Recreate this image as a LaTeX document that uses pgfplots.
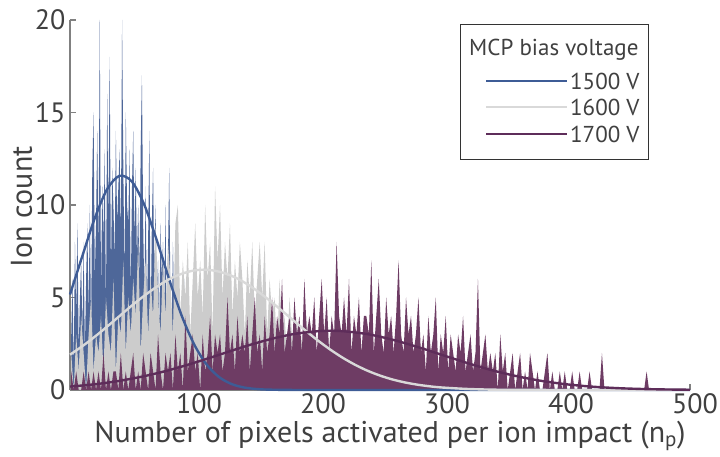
\documentclass[border=0pt]{standalone}
\usepackage{pgfplots}
\pgfplotsset{compat=1.18}
\usepackage{fontspec}
\setmainfont{PT Sans}
\definecolor{txt}{HTML}{404040}
\definecolor{bluefill}{HTML}{4E6799}
\definecolor{blueline}{HTML}{3E5C96}
\definecolor{grayfill}{HTML}{CCCCCC}
\definecolor{grayline}{HTML}{D9D9D9}
\definecolor{purpfill}{HTML}{6E3C64}
\definecolor{purpline}{HTML}{5E2D5A}
\begin{document}
\begin{tikzpicture}
\path[use as bounding box] (-70pt,-67pt) rectangle (650pt,390pt);
\begin{axis}[
  at={(0pt,0pt)}, anchor=south west,
  scale only axis, width=620pt, height=370pt,
  xmin=0, xmax=500, ymin=0, ymax=20,
  axis lines*=left,
  axis line style={gray, line width=1.2pt},
  tick align=inside,
  major tick length=6pt,
  tick style={gray, line width=1.2pt},
  xtick={100,200,...,500}, ytick={0,5,...,20},
  /pgf/number format/assume math mode=true,
  tick label style={font=\fontsize{28}{32}\selectfont, text=txt},
  xticklabel style={xshift=5pt},
  yticklabel style={xshift=-1pt},
  label style={font=\fontsize{30}{34}\selectfont, text=txt},
  xlabel={Number of pixels activated per ion impact (n\textsubscript{p})},
  ylabel={Ion count},
  xlabel style={at={(rel axis cs:0.516,-0.125)}, anchor=center},
  ylabel style={at={(rel axis cs:-0.078,0.495)}, anchor=center},
  clip=false,
]
% 1500 V histogram
\addplot[fill=bluefill, draw=none] coordinates {
(1,3)(2,6)(3,1)(4,8)(5,4)(6,9)(7,2)(8,5)(9,7)(10,3)
(11,8)(12,2)(13,6)(14,9)(15,4)(16,10)(17,3)(18,12)(19,15)(20,6)
(21,9)(22,14)(23,7)(24,20)(25,5)(26,11)(27,8)(28,13)(29,4)(30,16)
(31,9)(32,18)(33,6)(34,12)(35,10)(36,7)(37,14)(38,9)(39,11)(40,13)
(41,8)(42,20)(43,12)(44,6)(45,15)(46,10)(47,9)(48,13)(49,5)(50,11)
(51,14)(52,8)(53,12)(54,7)(55,10)(56,6)(57,13)(58,17)(59,9)(60,5)
(61,11)(62,4)(63,8)(64,14)(65,3)(66,9)(67,12)(68,6)(69,10)(70,5)
(71,7)(72,3)(73,9)(74,6)(75,8)(76,4)(77,10)(78,2)(79,7)(80,12)
(81,5)(82,3)(83,8)(84,4)(85,2)(86,6)(87,3)(88,5)(89,1)(90,4)
(91,2)(92,6)(93,1)(94,3)(95,2)(96,4)(97,1)(98,2)(99,3)(100,1)
(101,2)(102,0)(103,1)(104,3)(105,0)(106,1)(107,2)(108,0)(109,1)(110,0)
(111,1)(112,0)(113,2)(114,0)(115,0)(116,1)(117,0)(118,0)(119,1)(120,0)
} \closedcycle;
% 1600 V histogram
\addplot[fill=grayfill, draw=none] coordinates {
(1,2)(3,0)(5,3)(7,1)(9,4)(11,2)(13,0)(15,3)(17,5)(19,1)
(21,3)(23,2)(25,4)(27,1)(29,5)(31,3)(33,2)(35,6)(37,1)(39,4)
(41,3)(43,7)(45,2)(47,5)(49,3)(51,6)(53,4)(55,8)(57,2)(59,5)
(61,7)(63,3)(65,6)(67,4)(69,9)(71,5)(73,3)(75,7)(77,4)(79,8)
(81,6)(83,3)(85,9)(87,10)(89,4)(91,7)(93,5)(95,8)(97,3)(99,6)
(101,9)(103,5)(105,7)(107,4)(109,10)(111,6)(113,8)(115,3)(117,11)(119,7)
(121,10)(123,5)(125,8)(127,6)(129,9)(131,4)(133,7)(135,5)(137,8)(139,6)
(141,3)(143,7)(145,5)(147,8)(149,4)(151,6)(153,8)(155,5)(157,8)(159,3)
(161,6)(163,4)(165,5)(167,2)(169,6)(171,3)(173,4)(175,2)(177,5)(179,3)
(181,2)(183,4)(185,1)(187,3)(189,2)(191,4)(193,1)(195,2)(197,3)(199,1)
(201,2)(203,0)(205,2)(207,1)(209,3)(211,0)(213,1)(215,2)(217,0)(219,1)
(221,2)(223,0)(225,1)(227,0)(229,1)(231,2)(233,0)(235,1)(237,0)(239,1)
(241,0)(243,1)(245,0)(247,0)(249,1)(251,0)(253,0)(255,1)(257,0)(259,0)
(261,1)(263,0)(265,0)(267,0)(269,1)(271,0)(273,0)(275,0)(277,1)(279,0)
(281,0)(283,0)(285,0)(287,1)(289,0)(291,0)
} \closedcycle;
% 1700 V histogram
\addplot[fill=purpfill, draw=none] coordinates {
(1,1)(3,0)(5,1)(7,0)(9,0)(11,1)(13,0)(15,1)(17,0)(19,1)
(21,0)(23,1)(25,0)(27,2)(29,0)(31,1)(33,0)(35,1)(37,1)(39,0)
(41,2)(43,0)(45,1)(47,0)(49,1)(51,2)(53,0)(55,1)(57,0)(59,2)
(61,1)(63,0)(65,2)(67,1)(69,0)(71,3)(73,1)(75,0)(77,2)(79,1)
(81,2)(83,0)(85,3)(87,1)(89,2)(91,0)(93,4)(95,1)(97,2)(99,3)
(101,1)(103,2)(105,0)(107,3)(109,1)(111,2)(113,4)(115,1)(117,3)(119,2)
(121,3)(123,1)(125,2)(127,5)(129,2)(131,3)(133,1)(135,4)(137,2)(139,3)
(141,2)(143,4)(145,1)(147,3)(149,5)(151,2)(153,3)(155,1)(157,4)(159,2)
(161,3)(163,5)(165,2)(167,4)(169,3)(171,6)(173,2)(175,3)(177,4)(179,2)
(181,5)(183,3)(185,4)(187,2)(189,6)(191,3)(193,4)(195,3)(197,5)(199,2)
(201,4)(203,6)(205,3)(207,5)(209,2)(211,4)(213,3)(215,8)(217,4)(219,3)
(221,5)(223,3)(225,6)(227,2)(229,4)(231,3)(233,5)(235,2)(237,4)(239,4)
(241,3)(243,7)(245,2)(247,4)(249,6)(251,3)(253,2)(255,5)(257,3)(259,4)
(261,2)(263,4)(265,7)(267,3)(269,2)(271,5)(273,3)(275,4)(277,2)(279,3)
(281,5)(283,2)(285,3)(287,1)(289,4)(291,2)(293,3)(295,5)(297,1)(299,3)
(301,2)(303,4)(305,1)(307,3)(309,2)(311,1)(313,3)(315,2)(317,4)(319,1)
(321,2)(323,3)(325,1)(327,2)(329,6)(331,1)(333,2)(335,3)(337,1)(339,2)
(341,1)(343,2)(345,0)(347,3)(349,1)(351,2)(353,0)(355,1)(357,2)(359,0)
(361,1)(363,2)(365,0)(367,1)(369,0)(371,2)(373,1)(375,0)(377,1)(379,0)
(381,0)(383,1)(385,2)(387,0)(389,1)(391,0)(393,0)(395,1)(397,0)(399,1)
(401,0)(403,0)(405,1)(407,0)(409,0)(411,1)(413,0)(415,0)(417,0)(419,1)
(421,0)(423,0)(425,0)(427,0)(429,2)(431,0)(433,0)(441,0)(463,0)(465,1)(467,0)(479,0)
} \closedcycle;
% Gaussian fits
\addplot[blueline, line width=2.4pt, smooth] coordinates {
(0,5.16)(10,7.25)(20,9.29)(30,10.86)(40,11.58)(50,11.26)(60,10.0)(70,8.09)
(80,5.98)(90,4.03)(100,2.48)(110,1.39)(120,0.71)(130,0.33)(140,0.14)(150,0.055)
(160,0.02)(180,0.002)(200,0)(300,0)(400,0)(500,0)
};
\addplot[grayline, line width=2.4pt, smooth] coordinates {
(0,1.91)(10,2.37)(20,2.88)(30,3.43)(40,4.0)(50,4.57)(60,5.10)(70,5.58)(80,5.99)
(90,6.28)(100,6.46)(110,6.50)(120,6.40)(130,6.18)(140,5.84)(150,5.40)(160,4.89)
(170,4.34)(180,3.77)(190,3.21)(200,2.67)(210,2.18)(220,1.74)(230,1.36)(240,1.04)
(250,0.78)(260,0.57)(270,0.41)(280,0.29)(290,0.20)(300,0.135)(320,0.058)
(340,0.02)(360,0.008)(400,0.001)(500,0)
};
\addplot[purpline, line width=2.4pt, smooth] coordinates {
(0,0.186)(20,0.31)(40,0.495)(60,0.749)(80,1.075)(100,1.466)(120,1.897)(140,2.333)
(160,2.72)(180,3.02)(200,3.18)(210,3.2)(220,3.18)(240,3.02)(260,2.72)(280,2.333)
(300,1.897)(320,1.466)(340,1.075)(360,0.749)(380,0.495)(400,0.31)(420,0.186)
(440,0.105)(460,0.057)(480,0.029)(500,0.014)
};
\end{axis}
% legend
\draw[black!80, line width=1pt, fill=white] (390pt,230pt) rectangle (578pt,365pt);
\begin{scope}[font=\fontsize{23}{26}\selectfont, text=txt]
\node[anchor=west, inner sep=0pt] at (399pt,340pt) {MCP bias voltage};
\draw[blueline, line width=2.4pt] (416pt,309pt) -- (497pt,309pt);
\draw[grayline, line width=2.4pt] (416pt,283pt) -- (497pt,283pt);
\draw[purpline, line width=2.4pt] (416pt,256pt) -- (497pt,256pt);
\node[anchor=west, inner sep=0pt] at (500pt,309pt) {1500 V};
\node[anchor=west, inner sep=0pt] at (500pt,283pt) {1600 V};
\node[anchor=west, inner sep=0pt] at (500pt,256pt) {1700 V};
\end{scope}
\end{tikzpicture}
\end{document}
